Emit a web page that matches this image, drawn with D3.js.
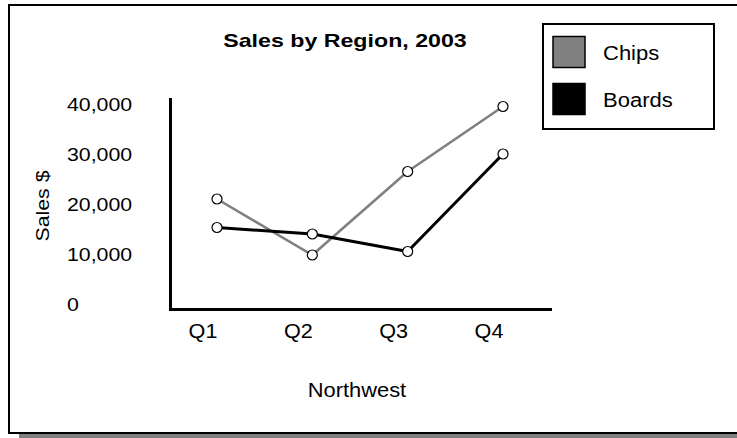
<!DOCTYPE html>
<html>
<head>
<meta charset="utf-8">
<script src="https://cdn.jsdelivr.net/npm/d3@7"></script>
<style>
  html, body { margin: 0; padding: 0; background: #fff; }
  svg { display: block; font-family: "Liberation Sans", Arial, Helvetica, sans-serif; }
</style>
</head>
<body>
<svg id="chart" width="737" height="438"></svg>
<script>
const quarters = ["Q1", "Q2", "Q3", "Q4"];
const chipsValues = [21000, 9800, 26500, 39500];
const boardsValues = [15300, 14000, 10500, 30000];
const seriesNames = ["Chips", "Boards"];
const yTickValues = [0, 10000, 20000, 30000, 40000];
const yTickLabels = ["0", "10,000", "20,000", "30,000", "40,000"];
const titleText = "Sales by Region, 2003";
const xAxisTitle = "Northwest";
const yAxisTitle = "Sales $";

const series = [
  { name: seriesNames[0], values: chipsValues, color: "#808080", width: 2.6 },
  { name: seriesNames[1], values: boardsValues, color: "#000000", width: 3 }
];

// widen glyphs horizontally to mimic the reference's wide face
function stretch(sel, factor) {
  sel.each(function () {
    const w = this.getComputedTextLength();
    d3.select(this).attr("textLength", w * factor).attr("lengthAdjust", "spacingAndGlyphs");
  });
  return sel;
}

const svg = d3.select("#chart");

// frame with shadow
svg.append("rect").attr("x", 19).attr("y", 11).attr("width", 740).attr("height", 427).attr("fill", "#808080");
svg.append("rect").attr("x", 9).attr("y", 5).attr("width", 740).attr("height", 428)
  .attr("fill", "#fff").attr("stroke", "#000").attr("stroke-width", 2);

const x = d3.scalePoint().domain(quarters).range([217, 503]);
const y = d3.scaleLinear().domain([0, 40000]).range([304, 104]);

// title
stretch(svg.append("text").attr("x", 345).attr("y", 47).attr("text-anchor", "middle")
  .attr("font-size", 19).attr("font-weight", "bold")
  .text(titleText), 1.22);

// y tick labels (left aligned)
stretch(svg.append("g").selectAll("text").data(yTickValues).join("text")
  .attr("x", 67).attr("y", d => y(d) + 7)
  .attr("font-size", 19)
  .text((d, i) => yTickLabels[i]), 1.12);

// y axis title
stretch(svg.append("text").attr("transform", "translate(49,206) rotate(-90)")
  .attr("text-anchor", "middle").attr("font-size", 19)
  .text(yAxisTitle), 1.12);

// axes lines
svg.append("line").attr("x1", 170.5).attr("x2", 170.5).attr("y1", 98).attr("y2", 311)
  .attr("stroke", "#000").attr("stroke-width", 3);
svg.append("line").attr("x1", 169).attr("x2", 552).attr("y1", 309.5).attr("y2", 309.5)
  .attr("stroke", "#000").attr("stroke-width", 3);

// x tick labels
stretch(svg.append("g").selectAll("text").data(quarters).join("text")
  .attr("x", d => x(d) - 14).attr("y", 338).attr("text-anchor", "middle")
  .attr("font-size", 20)
  .text(d => d), 1.08);

// x axis title
stretch(svg.append("text").attr("x", 357).attr("y", 397).attr("text-anchor", "middle")
  .attr("font-size", 19.5)
  .text(xAxisTitle), 1.12);

// lines
const line = d3.line().x((d, i) => x(quarters[i])).y(d => y(d));
svg.append("g").selectAll("path").data(series).join("path")
  .attr("d", s => line(s.values)).attr("fill", "none")
  .attr("stroke", s => s.color).attr("stroke-width", s => s.width)
  .attr("stroke-linejoin", "round");

// markers
series.forEach(s => {
  svg.append("g").selectAll("circle").data(s.values).join("circle")
    .attr("cx", (d, i) => x(quarters[i])).attr("cy", d => y(d)).attr("r", 5)
    .attr("fill", "#fff").attr("stroke", "#000").attr("stroke-width", 1.2);
});

// legend
const lg = svg.append("g");
lg.append("rect").attr("x", 543).attr("y", 24).attr("width", 171).attr("height", 105)
  .attr("fill", "#fff").attr("stroke", "#000").attr("stroke-width", 2);
const items = lg.selectAll("g.item").data(series).join("g").attr("class", "item")
  .attr("transform", (d, i) => `translate(0, ${i * 47})`);
items.append("rect").attr("x", 553).attr("y", 36.5).attr("width", 32).attr("height", 31)
  .attr("fill", d => d.color).attr("stroke", "#000").attr("stroke-width", 1.5);
stretch(items.append("text").attr("x", 603).attr("y", 60).attr("font-size", 20)
  .text(d => d.name), 1.1);
</script>
</body>
</html>
